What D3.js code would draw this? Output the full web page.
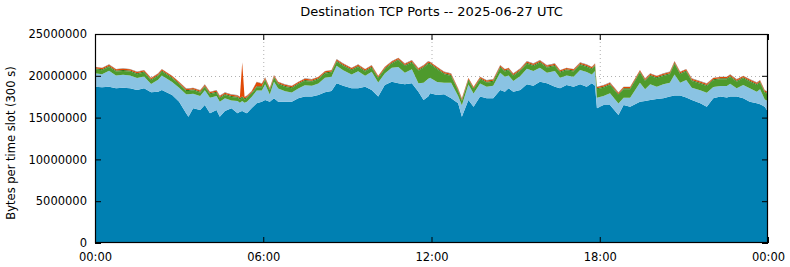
<!DOCTYPE html>
<html>
<head>
<meta charset="utf-8">
<style>
  body { margin: 0; padding: 0; background: #fff; }
  svg { display: block; font-family: "DejaVu Sans", sans-serif; }
</style>
</head>
<body>
<div id="chart"></div>
<script src="https://cdnjs.cloudflare.com/ajax/libs/d3/7.8.5/d3.min.js"></script>
<script>
// sample times, minutes after 00:00 UTC
var minutes = [0, 15, 30, 45, 60, 75, 90, 105, 120, 135, 143, 165, 180, 195, 200, 210, 225, 235, 246, 260,
  267, 278, 292, 305, 310, 315, 320, 325, 335, 346, 357, 364, 374, 383, 392, 407, 421, 435, 449, 464,
  478, 492, 506, 517, 531, 549, 563, 578, 592, 606, 620, 635, 649, 663, 678, 692, 703, 713,
  717, 732, 747, 762, 777, 785, 799, 810, 824, 838, 852, 867, 877, 885, 895, 910, 924, 938, 952, 967,
  984, 995, 1009, 1024, 1038, 1052, 1063, 1070, 1074, 1088, 1102, 1120, 1131, 1145, 1166, 1177, 1188, 1202,
  1216, 1230, 1240, 1252, 1265, 1277, 1295, 1309, 1323, 1338, 1352, 1359, 1373, 1387, 1401, 1416, 1423, 1433, 1440];

// bytes per slot, millions, per port group (bottom to top)
var port443 = [18.70, 18.62, 18.70, 18.50, 18.58, 18.50, 18.30, 18.50, 18.02, 18.10, 18.30, 17.71, 16.91, 15.51, 15.11, 16.11, 15.91, 16.51, 15.51, 15.91,
  15.11, 15.79, 16.11, 15.51, 15.71, 15.79, 15.63, 15.51, 16.11, 16.71, 16.91, 17.11, 16.91, 17.31, 16.91, 16.91, 16.91, 17.31, 17.51, 17.51,
  17.71, 18.02, 18.18, 19.10, 18.82, 18.50, 18.50, 18.70, 18.30, 17.51, 18.90, 19.30, 19.10, 18.98, 19.10, 18.10, 17.11, 17.51,
  17.91, 17.71, 17.79, 17.31, 16.71, 15.11, 17.11, 16.31, 17.51, 17.31, 17.31, 18.30, 18.10, 18.50, 18.10, 18.30, 18.98, 18.82, 19.30, 19.10,
  18.70, 18.50, 18.90, 18.70, 18.98, 18.70, 19.10, 18.82, 16.11, 16.51, 16.51, 15.31, 16.51, 16.31, 16.91, 16.99, 17.11, 17.23,
  17.31, 17.51, 17.63, 17.63, 17.39, 17.11, 16.71, 16.31, 17.31, 17.51, 17.39, 17.51, 17.51, 17.31, 16.91, 16.71, 16.59, 16.31, 15.71];

var port80 = [1.62, 1.58, 1.90, 1.55, 1.55, 1.55, 1.43, 1.43, 0.99, 1.43, 1.75, 1.54, 1.67, 2.27, 2.67, 1.75, 1.67, 1.75, 1.87, 1.67,
  1.80, 1.51, 0.95, 1.47, 1.07, 1.20, 1.15, 1.40, 1.35, 1.52, 1.32, 1.89, 0.85, 1.97, 1.57, 1.25, 1.09, 1.17, 1.37, 1.29,
  1.37, 1.74, 1.70, 2.09, 1.85, 1.65, 2.05, 1.30, 2.17, 1.69, 1.37, 1.65, 1.95, 1.39, 1.67, 1.00, 2.06, 2.14,
  1.86, 1.56, 1.39, 1.87, 0.87, 1.38, 1.85, 1.57, 1.57, 1.37, 1.49, 2.07, 1.80, 1.55, 1.28, 1.68, 1.87, 1.75, 1.67, 1.27,
  1.87, 1.28, 1.15, 1.20, 1.71, 1.75, 1.07, 1.75, 1.27, 1.07, 1.39, 1.39, 0.87, 1.07, 2.27, 1.39, 1.87, 1.47,
  1.67, 1.67, 2.52, 1.55, 2.11, 1.47, 1.55, 1.67, 1.35, 1.27, 1.39, 1.55, 0.99, 1.59, 1.59, 1.39, 1.79, 0.87, 1.27];

var port22 = [0.45, 0.45, 0.45, 0.45, 0.45, 0.45, 0.45, 0.45, 0.45, 0.45, 0.45, 0.45, 0.40, 0.40, 0.40, 0.40, 0.40, 0.40, 0.40, 0.40,
  0.40, 0.40, 0.40, 0.40, 0.40, 0.40, 0.40, 0.40, 0.40, 0.40, 0.40, 0.50, 0.50, 0.50, 0.50, 0.50, 0.50, 0.50, 0.50, 0.50,
  0.50, 0.50, 0.50, 0.50, 0.50, 0.50, 0.50, 0.50, 0.50, 0.50, 0.50, 0.50, 0.80, 0.80, 0.80, 1.50, 1.80, 1.80,
  1.60, 1.50, 1.00, 0.80, 0.60, 0.50, 0.50, 0.50, 0.50, 0.50, 0.50, 0.60, 0.60, 0.60, 0.60, 0.60, 0.60, 0.60, 0.60, 0.60,
  0.60, 0.60, 0.60, 0.60, 0.60, 0.60, 0.60, 0.60, 1.00, 1.00, 1.00, 1.00, 1.00, 1.00, 1.20, 1.00, 1.00, 1.00,
  1.00, 1.00, 1.30, 1.00, 1.00, 0.80, 0.80, 0.80, 0.80, 0.80, 0.80, 0.80, 0.80, 0.80, 0.80, 0.80, 0.80, 0.80, 0.80];

var port25 = [0.12, 0.12, 0.12, 0.12, 0.12, 0.12, 0.12, 0.12, 0.12, 0.12, 0.12, 0.12, 0.12, 0.12, 0.12, 0.12, 0.12, 0.12, 0.12, 0.12,
  0.12, 0.12, 0.12, 0.12, 0.12, 0.12, 0.12, 0.12, 0.12, 0.12, 0.12, 0.12, 0.12, 0.12, 0.12, 0.12, 0.12, 0.12, 0.12, 0.12,
  0.12, 0.12, 0.12, 0.12, 0.12, 0.12, 0.12, 0.12, 0.12, 0.12, 0.12, 0.12, 0.12, 0.12, 0.12, 0.12, 0.12, 0.12,
  0.12, 0.12, 0.12, 0.12, 0.12, 0.12, 0.12, 0.12, 0.12, 0.12, 0.12, 0.12, 0.12, 0.12, 0.12, 0.12, 0.12, 0.12, 0.12, 0.12,
  0.12, 0.12, 0.12, 0.12, 0.12, 0.12, 0.12, 0.12, 0.12, 0.12, 0.12, 0.12, 0.12, 0.12, 0.12, 0.12, 0.12, 0.12,
  0.12, 0.12, 0.12, 0.12, 0.12, 0.12, 0.12, 0.12, 0.12, 0.12, 0.12, 0.12, 0.12, 0.12, 0.12, 0.12, 0.12, 0.12, 0.12];

var port8080 = [0.15, 0.15, 0.15, 0.15, 0.15, 0.15, 0.15, 0.15, 0.15, 0.15, 0.15, 0.15, 0.15, 0.15, 0.15, 0.15, 0.15, 0.15, 0.15, 0.15,
  0.15, 0.15, 0.15, 0.15, 0.15, 4.05, 0.15, 0.15, 0.15, 0.50, 0.30, 0.15, 0.15, 0.15, 0.15, 0.15, 0.15, 0.15, 0.15, 0.15,
  0.15, 0.15, 0.15, 0.15, 0.15, 0.15, 0.15, 0.15, 0.15, 0.15, 0.15, 0.15, 0.15, 0.15, 0.15, 0.15, 0.15, 0.15,
  0.15, 0.15, 0.15, 0.15, 0.15, 0.15, 0.15, 0.15, 0.15, 0.15, 0.15, 0.15, 0.15, 0.15, 0.15, 0.15, 0.15, 0.15, 0.15, 0.15,
  0.15, 0.15, 0.15, 0.15, 0.15, 0.15, 0.15, 0.15, 0.15, 0.15, 0.15, 0.15, 0.15, 0.15, 0.15, 0.15, 0.15, 0.15,
  0.15, 0.15, 0.15, 0.15, 0.15, 0.15, 0.15, 0.15, 0.15, 0.15, 0.15, 0.15, 0.15, 0.15, 0.15, 0.15, 0.15, 0.15, 0.15];

var portOther = [0.05, 0.05, 0.05, 0.05, 0.05, 0.05, 0.05, 0.05, 0.05, 0.05, 0.05, 0.05, 0.05, 0.05, 0.05, 0.05, 0.05, 0.05, 0.05, 0.05,
  0.05, 0.05, 0.05, 0.05, 0.05, 0.05, 0.05, 0.05, 0.05, 0.05, 0.05, 0.05, 0.05, 0.05, 0.05, 0.05, 0.05, 0.05, 0.05, 0.05,
  0.05, 0.05, 0.05, 0.05, 0.05, 0.05, 0.05, 0.05, 0.05, 0.05, 0.05, 0.05, 0.05, 0.05, 0.05, 0.05, 0.05, 0.05,
  0.05, 0.05, 0.05, 0.05, 0.05, 0.05, 0.05, 0.05, 0.05, 0.05, 0.05, 0.05, 0.05, 0.05, 0.05, 0.05, 0.05, 0.05, 0.05, 0.05,
  0.05, 0.05, 0.05, 0.05, 0.05, 0.05, 0.05, 0.05, 0.05, 0.05, 0.05, 0.05, 0.05, 0.05, 0.05, 0.05, 0.05, 0.05,
  0.05, 0.05, 0.05, 0.05, 0.05, 0.05, 0.05, 0.05, 0.05, 0.05, 0.05, 0.05, 0.05, 0.05, 0.05, 0.05, 0.05, 0.05, 0.05];

var seriesNames = ["443", "80", "22", "25", "8080", "other"];
var seriesColors = ["#0080b2", "#8ac3e3", "#4e9a2c", "#2e7a1e", "#e04a06", "#8a7a70"];
var yTicks = [0, 5000000, 10000000, 15000000, 20000000, 25000000];
var xTickHours = [0, 6, 12, 18, 24];

var width = 790, height = 267;
var margin = { top: 34, right: 22, bottom: 24, left: 95 };

var allSeries = [port443, port80, port22, port25, port8080, portOther];
var rows = minutes.map(function(m, i) {
  var r = { t: new Date(Date.UTC(2025, 5, 27, 0, m)) };
  seriesNames.forEach(function(k, j) { r[k] = allSeries[j][i] * 1e6; });
  return r;
});

var svg = d3.select("#chart").append("svg")
  .attr("width", width)
  .attr("height", height);

var x = d3.scaleUtc()
  .domain([new Date(Date.UTC(2025, 5, 27)), new Date(Date.UTC(2025, 5, 28))])
  .range([margin.left, width - margin.right]);

var y = d3.scaleLinear()
  .domain([0, 25000000])
  .range([height - margin.bottom, margin.top]);

var stacked = d3.stack().keys(seriesNames)(rows);

var area = d3.area()
  .x(function(d) { return x(d.data.t); })
  .y0(function(d) { return y(d[0]); })
  .y1(function(d) { return y(d[1]); });

// grid first, areas cover it
var xTickDates = xTickHours.map(function(h) { return new Date(Date.UTC(2025, 5, 27, h)); });
var grid = svg.append("g").attr("stroke", "#b0b0b0").attr("stroke-dasharray", "1,3");
grid.selectAll(".gx").data(xTickDates.slice(1, -1)).enter().append("line")
  .attr("x1", function(d) { return x(d) + 0.5; })
  .attr("x2", function(d) { return x(d) + 0.5; })
  .attr("y1", margin.top)
  .attr("y2", height - margin.bottom);
grid.selectAll(".gy").data(yTicks.slice(1, -1)).enter().append("line")
  .attr("x1", margin.left)
  .attr("x2", width - margin.right)
  .attr("y1", function(d) { return Math.round(y(d)) + 0.5; })
  .attr("y2", function(d) { return Math.round(y(d)) + 0.5; });

svg.append("g").selectAll("path")
  .data(stacked)
  .enter().append("path")
  .attr("fill", function(d, i) { return seriesColors[i]; })
  .attr("d", area);

// frame
svg.append("rect")
  .attr("x", margin.left + 0.5)
  .attr("y", margin.top + 0.5)
  .attr("width", width - margin.left - margin.right - 1)
  .attr("height", height - margin.top - margin.bottom - 1)
  .attr("fill", "none")
  .attr("stroke", "#000")
  .attr("stroke-width", 1.2);

// axes: inward ticks like gnuplot
var fmtTime = d3.utcFormat("%H:%M");
svg.append("g")
  .attr("transform", "translate(0," + (height - margin.bottom) + ")")
  .call(d3.axisBottom(x).tickValues(xTickDates).tickFormat(fmtTime).tickSizeInner(-6).tickSizeOuter(0).tickPadding(10))
  .call(function(g) { g.select(".domain").remove(); });
svg.append("g")
  .attr("transform", "translate(0," + margin.top + ")")
  .call(d3.axisTop(x).tickValues(xTickDates).tickFormat("").tickSizeInner(-6).tickSizeOuter(0))
  .call(function(g) { g.select(".domain").remove(); });
svg.append("g")
  .attr("transform", "translate(" + margin.left + ",0)")
  .call(d3.axisLeft(y).tickValues(yTicks).tickFormat(d3.format("d")).tickSizeInner(-6).tickSizeOuter(0).tickPadding(8))
  .call(function(g) { g.select(".domain").remove(); });
svg.append("g")
  .attr("transform", "translate(" + (width - margin.right) + ",0)")
  .call(d3.axisRight(y).tickValues(yTicks).tickFormat("").tickSizeInner(-6).tickSizeOuter(0))
  .call(function(g) { g.select(".domain").remove(); });

svg.selectAll(".tick text")
  .attr("font-family", "DejaVu Sans, sans-serif")
  .attr("font-size", "11.5px")
  .attr("fill", "#000");
svg.selectAll(".tick line").attr("stroke", "#000");

svg.append("text")
  .attr("x", (margin.left + width - margin.right) / 2)
  .attr("y", 16)
  .attr("text-anchor", "middle")
  .attr("font-size", "13px")
  .text("Destination TCP Ports -- 2025-06-27 UTC");

svg.append("text")
  .attr("transform", "translate(15,143) rotate(-90)")
  .attr("text-anchor", "middle")
  .attr("font-size", "11.5px")
  .text("Bytes per time slot (300 s)");
</script>
</body>
</html>
